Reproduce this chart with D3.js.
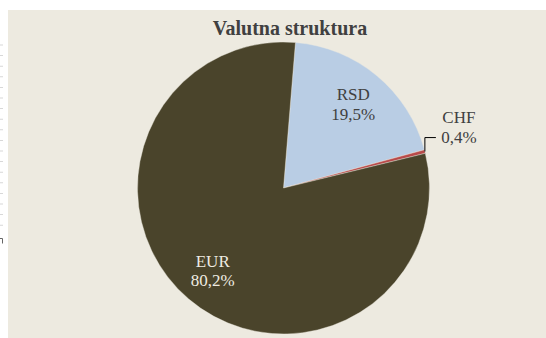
<!DOCTYPE html>
<html>
<head>
<meta charset="utf-8">
<script src="https://cdn.jsdelivr.net/npm/d3@7"></script>
<style>
  html, body { margin: 0; padding: 0; background: #ffffff; }
  svg { display: block; }
</style>
</head>
<body>
<svg id="chart" width="546" height="338"></svg>
<script>
// Currency structure
const title = "Valutna struktura";
const categories = ["RSD", "CHF", "EUR"];
const values = [19.5, 0.4, 80.2];
const valueLabels = ["19,5%", "0,4%", "80,2%"];
const colors = ["#b9cde4", "#b84a4a", "#4a442b"];
const textColors = ["#404040", "#404040", "#efece2"];

const W = 546, H = 338;
const cx = 283.5, cy = 188, R = 146;
const startDeg = 4.7;

const svg = d3.select("#chart");

// faint marks along the left margin
svg.append("line")
  .attr("x1", 1.5).attr("x2", 1.5)
  .attr("y1", 44.5).attr("y2", 230)
  .attr("stroke", "#d8d8d8").attr("stroke-width", 3)
  .attr("stroke-dasharray", "1,9.6");
svg.append("path")
  .attr("d", "M0,238.5H2.5V243.5")
  .attr("fill", "none")
  .attr("stroke", "#666")
  .attr("stroke-width", 1);

// chart panel
svg.append("rect")
  .attr("x", 8).attr("y", 10)
  .attr("width", W - 8).attr("height", H - 10)
  .attr("fill", "#edeae0");

svg.append("text")
  .attr("x", 290).attr("y", 35)
  .attr("text-anchor", "middle")
  .attr("font-family", "'Liberation Serif', 'Times New Roman', serif")
  .attr("font-weight", "bold")
  .attr("font-size", 20)
  .attr("fill", "#404040")
  .text(title);

const start = startDeg * Math.PI / 180;
const pie = d3.pie().sort(null).value(d => d)
  .startAngle(start).endAngle(start + 2 * Math.PI);
const arcs = pie(values);

const arc = d3.arc().innerRadius(0).outerRadius(R);
const labelArc = d3.arc().innerRadius(109).outerRadius(109);

const g = svg.append("g").attr("transform", `translate(${cx},${cy})`);

g.selectAll("path.slice")
  .data(arcs)
  .join("path")
  .attr("class", "slice")
  .attr("d", arc)
  .attr("fill", (d, i) => colors[i])
  .attr("stroke", "#edeae0")
  .attr("stroke-width", 0.4);

const font = "'Liberation Serif', 'Times New Roman', serif";

arcs.forEach((a, i) => {
  let lx, ly, anchor = "middle";
  const small = (a.endAngle - a.startAngle) < 0.1;
  if (!small) {
    [lx, ly] = labelArc.centroid(a);
  } else {
    // leader line from slice edge up and right to the outside label
    const mid = (a.startAngle + a.endAngle) / 2;
    const ex = R * Math.sin(mid), ey = -R * Math.cos(mid);
    const bendY = ey - 14;
    g.append("path")
      .attr("d", `M${ex},${ey}V${bendY}H${ex + 11}`)
      .attr("fill", "none")
      .attr("stroke", "#000")
      .attr("stroke-width", 1);
    lx = ex + 34;
    ly = bendY - 10.5;
  }
  const t = g.append("text")
    .attr("text-anchor", anchor)
    .attr("font-family", font)
    .attr("font-size", 17)
    .attr("fill", textColors[i]);
  t.append("tspan").attr("x", lx).attr("y", ly - 4).text(categories[i]);
  t.append("tspan").attr("x", lx).attr("y", ly + 15.5).text(valueLabels[i]);
});
</script>
</body>
</html>
